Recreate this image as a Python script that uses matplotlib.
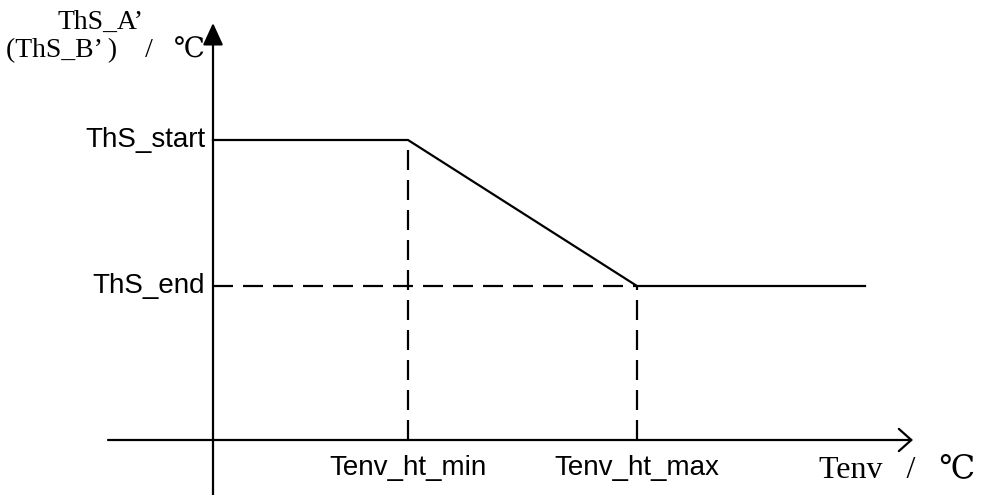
import matplotlib.pyplot as plt

plt.rcParams['font.family'] = ['Liberation Sans', 'DejaVu Sans']

# curve values (origin at the axis crossing)
ths_start = 300
ths_end = 154
tenv_ht_min = 195
tenv_ht_max = 424
tenv_last = 652

curve_x = [0, tenv_ht_min, tenv_ht_max, tenv_last]
curve_y = [ths_start, ths_start, ths_end, ths_end]

y_labels = ["ThS_start", "ThS_end"]
x_labels = ["Tenv_ht_min", "Tenv_ht_max"]

fig = plt.figure(figsize=(9.84, 4.95), dpi=100)
ax = fig.add_axes([0, 0, 1, 1])
ax.set_xlim(-213, 771)
ax.set_ylim(-55, 440)
ax.axis("off")

lw = 1.6
serif = ['Liberation Serif', 'DejaVu Serif', 'Noto Sans CJK SC']

# axes with arrows
ax.annotate("", xy=(700, 0), xytext=(-105, 0),
            arrowprops=dict(arrowstyle="->,head_length=0.9,head_width=0.8", lw=lw, color="black",
                            shrinkA=0, shrinkB=0))
ax.annotate("", xy=(0, 417), xytext=(0, -55),
            arrowprops=dict(arrowstyle="-|>,head_length=1.35,head_width=0.62", lw=lw, color="black",
                            shrinkA=0, shrinkB=0))

# main curve
ax.plot(curve_x, curve_y, color="black", lw=lw)

# dashed guides
dash = (0, (9, 4.5))
ax.plot([0, tenv_ht_max], [ths_end, ths_end], color="black", lw=lw, linestyle=dash)
ax.plot([tenv_ht_min, tenv_ht_min], [0, ths_start], color="black", lw=lw, linestyle=dash)
ax.plot([tenv_ht_max, tenv_ht_max], [0, ths_end], color="black", lw=lw, linestyle=dash)

# labels
for val, lab in zip([ths_start, ths_end], y_labels):
    ax.text(-8, val, lab, ha="right", va="center", fontsize=20)
for val, lab in zip([tenv_ht_min, tenv_ht_max], x_labels):
    ax.text(val, -28, lab, ha="center", va="center", fontsize=20)

ax.text(762, -30, "Tenv   /   ℃", ha="right", va="center", fontsize=23, family=serif)
ax.text(-113, 418, "ThS_A’", ha="center", va="center", fontsize=20, family=serif)
ax.text(-8, 390, "(ThS_B’ )    /   ℃", ha="right", va="center", fontsize=20, family=serif)

fig.savefig("out.png", dpi=100)
